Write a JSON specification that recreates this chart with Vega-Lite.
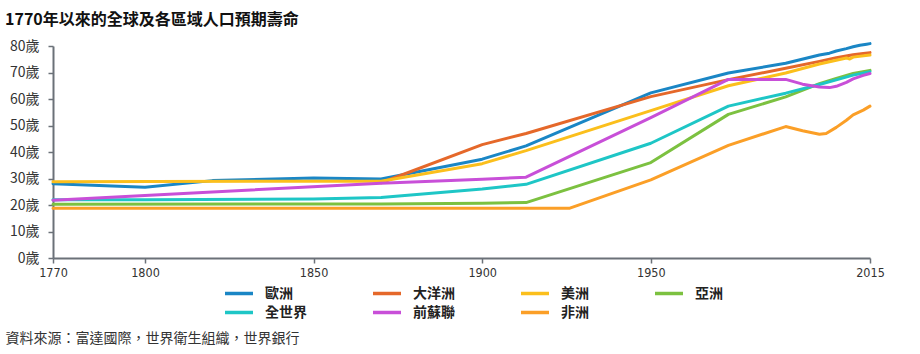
{
  "$schema": "https://vega.github.io/schema/vega-lite/v6.json",
  "width": 817,
  "height": 212,
  "autosize": {"type": "none"},
  "padding": {"left": 53, "top": 46, "right": 50, "bottom": 96},
  "background": "white",
  "title": {
    "text": "1770年以來的全球及各區域人口預期壽命",
    "anchor": "start",
    "frame": "group",
    "dx": -48,
    "offset": 11,
    "font": "Noto Sans CJK TC",
    "fontSize": 16,
    "fontWeight": "bold",
    "color": "#111111"
  },
  "data": {
    "values": [
      {"region": "歐洲", "year": 1770, "value": 28.0},
      {"region": "歐洲", "year": 1800, "value": 26.7},
      {"region": "歐洲", "year": 1820, "value": 29.2},
      {"region": "歐洲", "year": 1850, "value": 30.2},
      {"region": "歐洲", "year": 1870, "value": 29.8},
      {"region": "歐洲", "year": 1900, "value": 37.3},
      {"region": "歐洲", "year": 1913, "value": 42.3},
      {"region": "歐洲", "year": 1950, "value": 62.3},
      {"region": "歐洲", "year": 1973, "value": 69.8},
      {"region": "歐洲", "year": 1990, "value": 73.5},
      {"region": "歐洲", "year": 2000, "value": 76.6},
      {"region": "歐洲", "year": 2003, "value": 77.3},
      {"region": "歐洲", "year": 2005, "value": 78.1},
      {"region": "歐洲", "year": 2008, "value": 79.0},
      {"region": "歐洲", "year": 2010, "value": 79.7},
      {"region": "歐洲", "year": 2012, "value": 80.3},
      {"region": "歐洲", "year": 2014, "value": 80.7},
      {"region": "歐洲", "year": 2015, "value": 80.9},

      {"region": "大洋洲", "year": 1870, "value": 28.4},
      {"region": "大洋洲", "year": 1900, "value": 42.8},
      {"region": "大洋洲", "year": 1913, "value": 47.0},
      {"region": "大洋洲", "year": 1950, "value": 60.9},
      {"region": "大洋洲", "year": 1973, "value": 67.3},
      {"region": "大洋洲", "year": 1990, "value": 71.6},
      {"region": "大洋洲", "year": 2000, "value": 74.2},
      {"region": "大洋洲", "year": 2005, "value": 75.6},
      {"region": "大洋洲", "year": 2010, "value": 76.7},
      {"region": "大洋洲", "year": 2013, "value": 77.2},
      {"region": "大洋洲", "year": 2015, "value": 77.5},

      {"region": "美洲", "year": 1770, "value": 28.8},
      {"region": "美洲", "year": 1870, "value": 29.0},
      {"region": "美洲", "year": 1900, "value": 35.6},
      {"region": "美洲", "year": 1913, "value": 40.5},
      {"region": "美洲", "year": 1950, "value": 55.6},
      {"region": "美洲", "year": 1973, "value": 65.0},
      {"region": "美洲", "year": 1990, "value": 69.8},
      {"region": "美洲", "year": 2000, "value": 73.2},
      {"region": "美洲", "year": 2005, "value": 74.6},
      {"region": "美洲", "year": 2008, "value": 75.5},
      {"region": "美洲", "year": 2009, "value": 75.1},
      {"region": "美洲", "year": 2010, "value": 75.8},
      {"region": "美洲", "year": 2015, "value": 76.6},

      {"region": "亞洲", "year": 1770, "value": 20.3},
      {"region": "亞洲", "year": 1870, "value": 20.4},
      {"region": "亞洲", "year": 1900, "value": 20.7},
      {"region": "亞洲", "year": 1913, "value": 20.9},
      {"region": "亞洲", "year": 1950, "value": 36.0},
      {"region": "亞洲", "year": 1973, "value": 54.2},
      {"region": "亞洲", "year": 1990, "value": 60.8},
      {"region": "亞洲", "year": 2000, "value": 65.8},
      {"region": "亞洲", "year": 2005, "value": 67.8},
      {"region": "亞洲", "year": 2010, "value": 69.6},
      {"region": "亞洲", "year": 2015, "value": 70.8},

      {"region": "全世界", "year": 1770, "value": 22.0},
      {"region": "全世界", "year": 1800, "value": 22.0},
      {"region": "全世界", "year": 1850, "value": 22.3},
      {"region": "全世界", "year": 1870, "value": 22.8},
      {"region": "全世界", "year": 1900, "value": 26.0},
      {"region": "全世界", "year": 1913, "value": 27.8},
      {"region": "全世界", "year": 1950, "value": 43.3},
      {"region": "全世界", "year": 1973, "value": 57.3},
      {"region": "全世界", "year": 1990, "value": 62.2},
      {"region": "全世界", "year": 2000, "value": 65.5},
      {"region": "全世界", "year": 2005, "value": 67.2},
      {"region": "全世界", "year": 2010, "value": 69.0},
      {"region": "全世界", "year": 2015, "value": 70.3},

      {"region": "前蘇聯", "year": 1770, "value": 21.8},
      {"region": "前蘇聯", "year": 1870, "value": 28.2},
      {"region": "前蘇聯", "year": 1900, "value": 29.7},
      {"region": "前蘇聯", "year": 1913, "value": 30.5},
      {"region": "前蘇聯", "year": 1950, "value": 53.0},
      {"region": "前蘇聯", "year": 1973, "value": 67.4},
      {"region": "前蘇聯", "year": 1990, "value": 67.4},
      {"region": "前蘇聯", "year": 1995, "value": 65.6},
      {"region": "前蘇聯", "year": 2000, "value": 64.5},
      {"region": "前蘇聯", "year": 2003, "value": 64.3},
      {"region": "前蘇聯", "year": 2005, "value": 64.8},
      {"region": "前蘇聯", "year": 2008, "value": 66.3},
      {"region": "前蘇聯", "year": 2010, "value": 67.6},
      {"region": "前蘇聯", "year": 2013, "value": 68.9},
      {"region": "前蘇聯", "year": 2015, "value": 69.6},

      {"region": "非洲", "year": 1770, "value": 18.8},
      {"region": "非洲", "year": 1926, "value": 18.8},
      {"region": "非洲", "year": 1950, "value": 29.5},
      {"region": "非洲", "year": 1973, "value": 42.5},
      {"region": "非洲", "year": 1990, "value": 49.6},
      {"region": "非洲", "year": 1995, "value": 48.0},
      {"region": "非洲", "year": 2000, "value": 46.7},
      {"region": "非洲", "year": 2002, "value": 47.0},
      {"region": "非洲", "year": 2005, "value": 49.3},
      {"region": "非洲", "year": 2008, "value": 52.0},
      {"region": "非洲", "year": 2010, "value": 54.0},
      {"region": "非洲", "year": 2013, "value": 55.8},
      {"region": "非洲", "year": 2015, "value": 57.3}
    ]
  },
  "mark": {"type": "line", "strokeWidth": 3, "strokeJoin": "round", "strokeCap": "round"},
  "encoding": {
    "x": {
      "field": "year",
      "type": "quantitative",
      "scale": {"domain": [1770, 1800, 2015], "range": [0, 92, 817], "nice": false, "zero": false},
      "axis": {
        "values": [1770, 1800, 1850, 1900, 1950, 2015],
        "format": "d",
        "grid": false,
        "labelFlush": false,
        "domainColor": "#6b7178",
        "domainWidth": 2,
        "tickColor": "#6b7178",
        "tickWidth": 1.5,
        "tickSize": 5,
        "labelPadding": 3,
        "labelFont": "Liberation Sans Narrow, DejaVu Sans Condensed, sans-serif",
        "labelFontSize": 12.5,
        "labelColor": "#333333",
        "title": "資料來源：富達國際，世界衛生組織，世界銀行",
        "titleAnchor": "start",
        "titleAlign": "left",
        "titleBaseline": "middle",
        "titleX": -48,
        "titleY": 80,
        "titleFont": "Noto Sans CJK TC",
        "titleFontSize": 14,
        "titleFontWeight": "normal",
        "titleColor": "#333333"
      }
    },
    "y": {
      "field": "value",
      "type": "quantitative",
      "scale": {"domain": [0, 80], "nice": false},
      "axis": {
        "values": [0, 10, 20, 30, 40, 50, 60, 70, 80],
        "labelExpr": "datum.value + '歲'",
        "grid": false,
        "domainColor": "#6b7178",
        "domainWidth": 2,
        "tickColor": "#6b7178",
        "tickWidth": 1.5,
        "tickSize": 5,
        "labelPadding": 9,
        "labelFont": "Noto Sans CJK TC",
        "labelFontSize": 14,
        "labelColor": "#333333",
        "title": null
      }
    },
    "color": {
      "field": "region",
      "type": "nominal",
      "scale": {
        "domain": ["歐洲", "大洋洲", "美洲", "亞洲", "全世界", "前蘇聯", "非洲"],
        "range": ["#1a86c5", "#e5682a", "#fbbf1c", "#7cc140", "#1ec6c6", "#c84fd8", "#fb9f27"]
      },
      "legend": {
        "title": null,
        "orient": "none",
        "legendX": 170,
        "legendY": 239,
        "columns": 4,
        "direction": "horizontal",
        "symbolType": "stroke",
        "symbolSize": 784,
        "symbolStrokeWidth": 3.5,
        "clipHeight": 17,
        "labelFont": "Noto Sans CJK TC",
        "labelFontSize": 14,
        "labelFontWeight": "bold",
        "labelColor": "#222222",
        "labelOffset": 10,
        "columnPadding": 64,
        "rowPadding": 2
      }
    }
  },
  "config": {"view": {"stroke": null}}
}
